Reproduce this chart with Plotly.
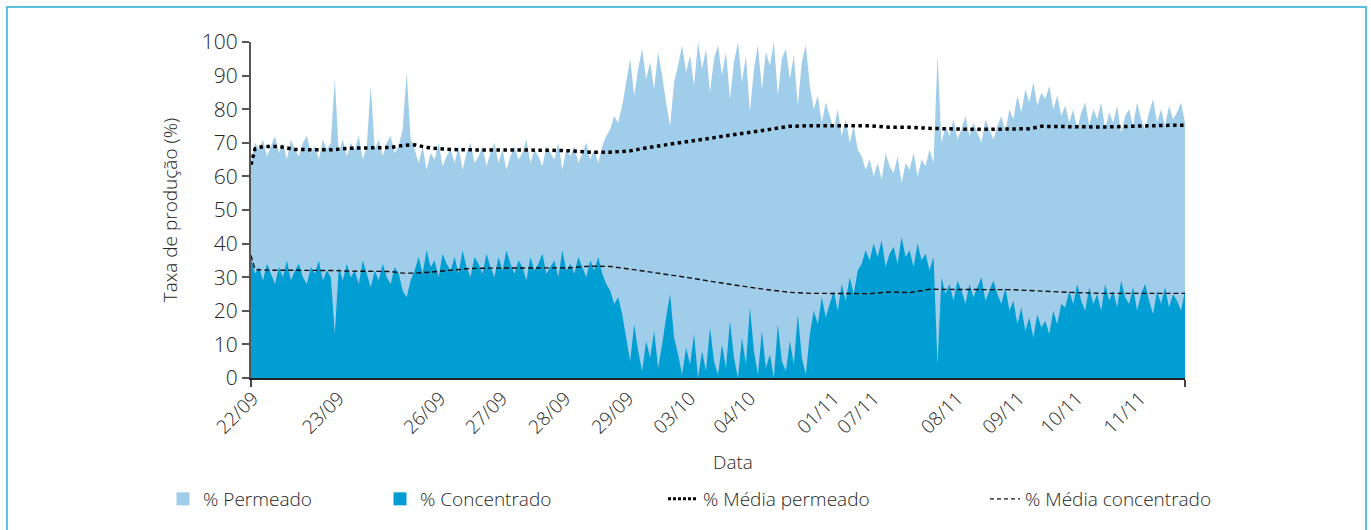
import plotly.graph_objects as go

# ---------------- data ----------------
date_labels = ["22/09", "23/09", "26/09", "27/09", "28/09", "29/09", "03/10",
               "04/10", "01/11", "07/11", "08/11", "09/11", "10/11", "11/11"]
label_pos = [0.5, 22, 47.4, 62.9, 78.7, 94.5, 110, 125, 146, 156, 177, 192.4, 207, 222.8]

permeado = [
    64, 70, 68, 71, 66, 69, 72, 67, 70, 65,
    71, 68, 66, 70, 72, 67, 69, 65, 71, 68,
    70, 89, 67, 71, 66, 70, 68, 72, 65, 69,
    87, 68, 71, 66, 70, 72, 67, 69, 74, 91,
    71, 68, 64, 69, 62, 67, 65, 70, 63, 66,
    68, 64, 69, 62, 67, 70, 64, 66, 69, 63,
    67, 70, 64, 68, 62, 66, 69, 65, 67, 71,
    64, 68, 66, 63, 69, 67, 65, 70, 62, 68,
    66, 69, 64, 67, 70, 65, 68, 64, 69, 72,
    74, 78, 76, 81, 88, 95, 84, 92, 98, 89,
    94, 86, 97, 90, 82, 75, 88, 93, 99, 91,
    96, 87, 100, 92, 98, 85, 95, 99, 90, 97,
    83, 94, 100, 88, 96, 79, 92, 99, 86, 97,
    93, 100, 84, 95, 98, 89, 96, 81, 94, 99,
    87, 80, 84, 76, 82, 78, 74, 80, 72, 77,
    70, 75, 68, 66, 62, 65, 60, 64, 59, 67,
    63, 61, 66, 58, 64, 62, 67, 60, 65, 63,
    68, 64, 96, 70, 75, 72, 77, 71, 74, 78,
    72, 76, 73, 70, 77, 74, 71, 75, 78, 73,
    80, 77, 84, 79, 86, 82, 88, 81, 85, 83,
    87, 80, 84, 78, 81, 76, 80, 74, 79, 82,
    75, 80, 77, 82, 74, 79, 76, 81, 73, 78,
    80, 75, 82, 77, 74, 79, 83, 76, 80, 75,
    81, 77, 79, 82, 76,
]

concentrado = [
    36, 31, 33, 29, 34, 31, 28, 33, 30, 35,
    29, 32, 34, 30, 28, 33, 31, 35, 29, 32,
    30, 13, 33, 29, 34, 30, 32, 28, 35, 31,
    27, 32, 29, 34, 30, 28, 33, 31, 26, 24,
    29, 32, 36, 31, 38, 33, 35, 30, 37, 34,
    32, 36, 31, 38, 33, 30, 36, 34, 31, 37,
    33, 30, 36, 32, 38, 34, 31, 35, 33, 29,
    36, 32, 34, 37, 31, 33, 35, 30, 38, 32,
    34, 31, 36, 33, 30, 35, 32, 36, 31, 28,
    26, 22, 24, 19, 12, 5, 16, 8, 2, 11,
    6, 14, 3, 10, 18, 25, 12, 7, 1, 9,
    4, 13, 0, 8, 2, 15, 5, 1, 10, 3,
    17, 6, 0, 12, 4, 21, 8, 1, 14, 3,
    7, 0, 16, 5, 2, 11, 4, 19, 6, 1,
    13, 20, 16, 24, 18, 22, 26, 20, 28, 23,
    30, 25, 32, 34, 38, 35, 40, 36, 41, 33,
    37, 39, 34, 42, 36, 38, 33, 40, 35, 37,
    32, 36, 4, 30, 25, 28, 23, 29, 26, 22,
    28, 24, 27, 30, 23, 26, 29, 25, 22, 27,
    20, 23, 16, 21, 14, 18, 12, 19, 15, 17,
    13, 20, 16, 22, 21, 26, 22, 28, 23, 20,
    27, 22, 25, 20, 28, 23, 26, 21, 29, 24,
    22, 27, 20, 25, 28, 23, 19, 26, 22, 27,
    21, 25, 23, 20, 26,
]

mean_idx = [0, 1, 3, 7, 11, 15, 20, 25, 30, 35,
            38, 41, 45, 50, 55, 60, 65, 70, 75, 80,
            85, 90, 95, 100, 105, 110, 115, 120, 125, 130,
            135, 140, 145, 150, 155, 160, 165, 170, 175, 180,
            185, 190, 195, 198, 205, 213, 220, 225, 230, 234]

media_permeado = [63.5, 68.2, 68.9, 68.9, 68.0, 67.9, 67.9, 68.4, 68.5, 68.6,
                  69.2, 69.4, 68.4, 68.0, 67.9, 67.9, 67.9, 67.8, 67.8, 67.6,
                  67.2, 67.2, 67.6, 68.7, 69.6, 70.5, 71.5, 72.3, 73.1, 74.0,
                  74.9, 75.1, 75.1, 75.1, 75.1, 74.6, 74.6, 74.3, 74.1, 74.0,
                  74.0, 74.0, 74.2, 74.9, 74.8, 74.7, 74.9, 75.1, 75.2, 75.2]

media_concentrado = [36.5, 32.3, 32.1, 32.1, 32.1, 32.1, 32.0, 31.8, 31.8, 31.7,
                     31.2, 31.2, 31.5, 32.0, 32.6, 32.7, 32.7, 32.7, 32.7, 32.8,
                     33.3, 33.2, 32.4, 31.6, 30.8, 29.8, 28.8, 27.8, 27.0, 26.2,
                     25.5, 25.2, 25.1, 25.1, 25.1, 25.6, 25.4, 26.4, 26.3, 26.3,
                     26.3, 26.3, 26.0, 25.8, 25.5, 25.2, 25.2, 25.2, 25.2, 25.2]

series_names = ["% Permeado", "% Concentrado", "% Média permeado", "% Média concentrado"]

# ---------------- style ----------------
C_PERM = "#A0CDEA"
C_CONC = "#009ED3"
TXT = "#262626"
FONT = "Open Sans"
FW = 300
W, H = 1371, 530
ML, MR, MT, MB = 251, 186, 42, 152
PW, PH = W - ML - MR, H - MT - MB

x = list(range(len(permeado)))

fig = go.Figure()
fig.add_trace(go.Scatter(x=x, y=permeado, mode="none", fill="tozeroy",
                         fillcolor=C_PERM, showlegend=False, hoverinfo="skip"))
fig.add_trace(go.Scatter(x=x, y=concentrado, mode="none", fill="tozeroy",
                         fillcolor=C_CONC, showlegend=False, hoverinfo="skip"))
fig.add_trace(go.Scatter(x=mean_idx, y=media_permeado, mode="lines",
                         line=dict(color="#000000", width=3.5, dash="3.5px,3.5px"),
                         showlegend=False))
fig.add_trace(go.Scatter(x=mean_idx, y=media_concentrado, mode="lines",
                         line=dict(color="#111111", width=1.4, dash="5px,3px"),
                         showlegend=False))

# legend entries
fig.add_trace(go.Scatter(x=[None], y=[None], mode="markers", name=series_names[0],
                         marker=dict(symbol="square", size=13, color=C_PERM), legend="legend"))
fig.add_trace(go.Scatter(x=[None], y=[None], mode="markers", name=series_names[1],
                         marker=dict(symbol="square", size=13, color=C_CONC), legend="legend2"))
fig.add_trace(go.Scatter(x=[None], y=[None], mode="lines", name=series_names[2],
                         line=dict(color="#000000", width=3, dash="3px,2px"), legend="legend3"))
fig.add_trace(go.Scatter(x=[None], y=[None], mode="lines", name=series_names[3],
                         line=dict(color="#111111", width=1.3, dash="4px,3px"), legend="legend4"))

def px2paper_x(px):
    return (px - ML) / PW

def px2paper_y(py):
    return (H - MB - py) / PH

leg_common = dict(orientation="h", yanchor="middle", xanchor="left",
                  font=dict(family=FONT, size=19, color=TXT, weight=FW), bgcolor="rgba(0,0,0,0)",
                  itemwidth=30)
legend_left_px = [163, 380, 663, 985]

fig.update_layout(
    width=W, height=H,
    margin=dict(l=ML, r=MR, t=MT, b=MB),
    paper_bgcolor="white", plot_bgcolor="white",
    font=dict(family=FONT, color=TXT, weight=FW),
    legend=dict(x=px2paper_x(legend_left_px[0]), y=px2paper_y(499), **leg_common),
    legend2=dict(x=px2paper_x(legend_left_px[1]), y=px2paper_y(499), **leg_common),
    legend3=dict(x=px2paper_x(legend_left_px[2]), y=px2paper_y(499), **leg_common),
    legend4=dict(x=px2paper_x(legend_left_px[3]), y=px2paper_y(499), **leg_common),
    xaxis=dict(range=[0, len(permeado) - 1], tickmode="array", tickvals=label_pos,
               ticktext=date_labels, tickangle=-45, ticks="",
               tickfont=dict(family=FONT, size=19, color=TXT, weight=FW),
               showline=True, linecolor="#222222", linewidth=1.5,
               showgrid=False, zeroline=False,
               minor=dict(tickmode="array", tickvals=[0, len(permeado) - 1],
                          ticks="outside", ticklen=7, tickcolor="#444444", tickwidth=1.5)),
    yaxis=dict(range=[0, 100], tickmode="array", tickvals=list(range(0, 101, 10)),
               ticks="outside", ticklen=7, tickcolor="#555555", tickwidth=2,
               tickfont=dict(family=FONT, size=21, color=TXT, weight=FW),
               showline=True, linecolor="#555555", linewidth=2,
               showgrid=False, zeroline=False,
               title=dict(text="Taxa de produção (%)",
                          font=dict(family=FONT, size=19, color=TXT, weight=FW),
                          standoff=19)),
    annotations=[dict(text="Data", x=px2paper_x(733), y=px2paper_y(462), xref="paper", yref="paper",
                      showarrow=False, xanchor="center", yanchor="middle",
                      font=dict(family=FONT, size=19, color=TXT, weight=FW))],
    shapes=[dict(type="rect", xref="paper", yref="paper",
                 x0=px2paper_x(7), x1=px2paper_x(1366), y0=px2paper_y(560), y1=px2paper_y(7),
                 line=dict(color="#5BC0E0", width=2), fillcolor="rgba(0,0,0,0)", layer="below")],
)

fig.write_html("out.html", config={"displayModeBar": False},
               post_script="document.body.style.margin='0';")
